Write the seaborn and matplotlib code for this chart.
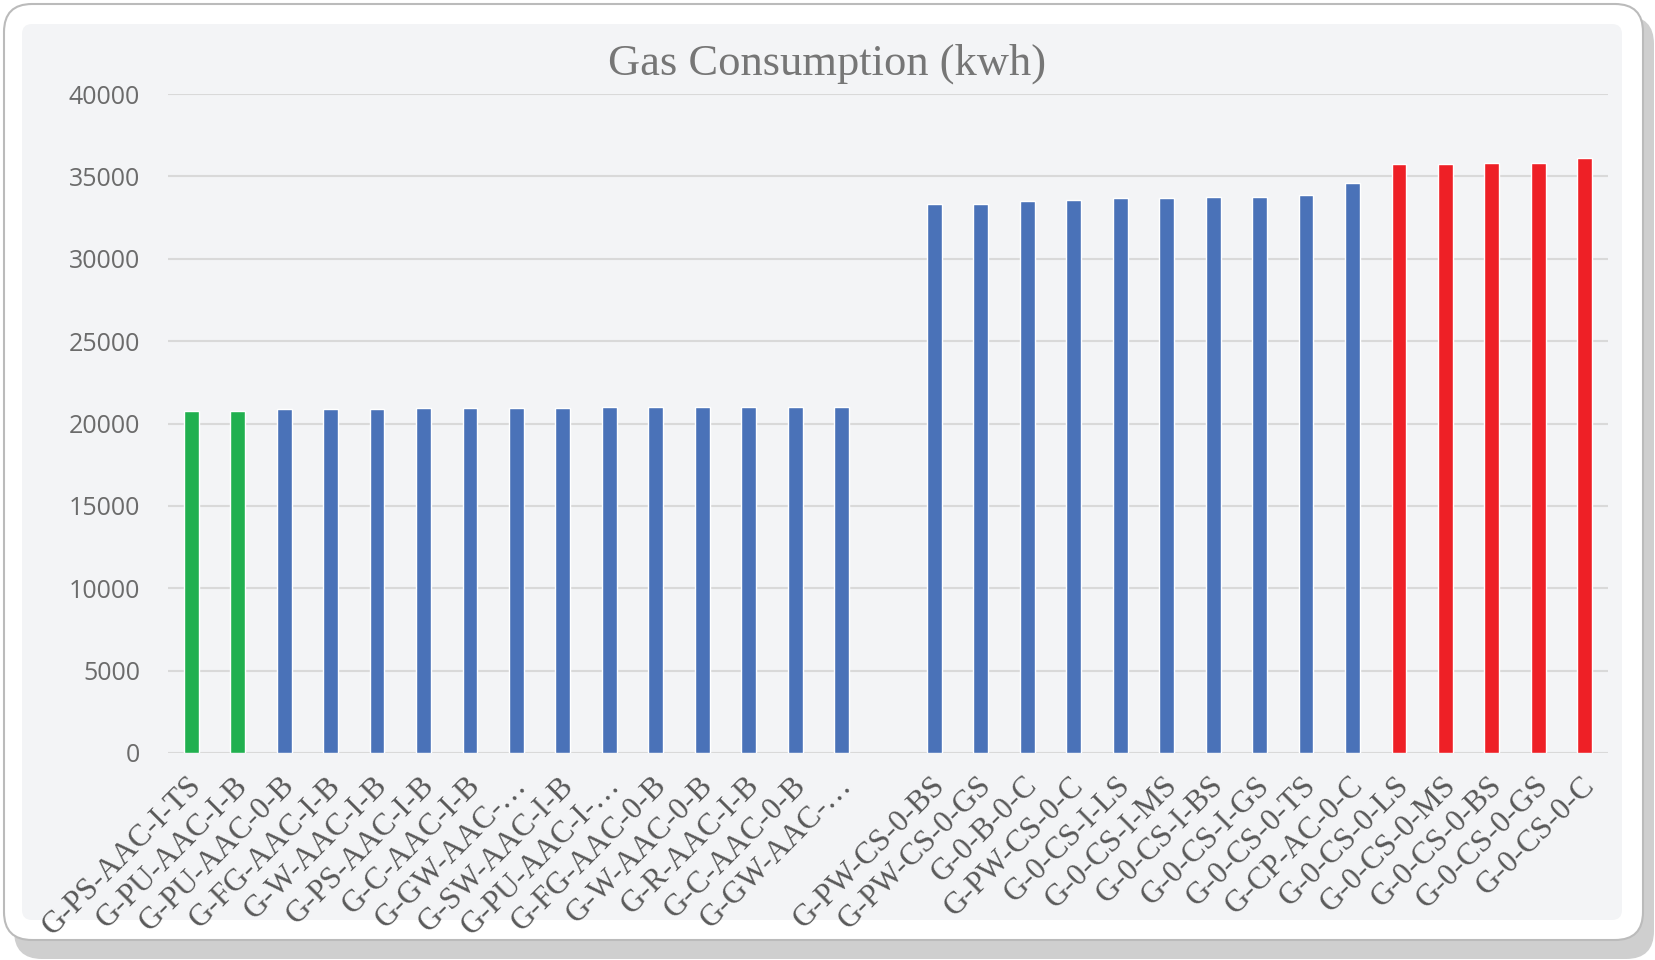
import numpy as np
import pandas as pd
import matplotlib
matplotlib.use("Agg")
import matplotlib.pyplot as plt
import matplotlib.transforms as mtrans
from matplotlib.patches import FancyBboxPatch
import seaborn as sns

# ---- data ----
labels = ["G-PS-AAC-I-TS", "G-PU-AAC-I-B", "G-PU-AAC-0-B", "G-FG-AAC-I-B", "G-W-AAC-I-B",
          "G-PS-AAC-I-B", "G-C-AAC-I-B", "G-GW-AAC-…", "G-SW-AAC-I-B", "G-PU-AAC-I-…",
          "G-FG-AAC-0-B", "G-W-AAC-0-B", "G-R-AAC-I-B", "G-C-AAC-0-B", "G-GW-AAC-…",
          "",
          "G-PW-CS-0-BS", "G-PW-CS-0-GS", "G-0-B-0-C", "G-PW-CS-0-C", "G-0-CS-I-LS",
          "G-0-CS-I-MS", "G-0-CS-I-BS", "G-0-CS-I-GS", "G-0-CS-0-TS", "G-CP-AC-0-C",
          "G-0-CS-0-LS", "G-0-CS-0-MS", "G-0-CS-0-BS", "G-0-CS-0-GS", "G-0-CS-0-C"]
values = [20750, 20750, 20860, 20860, 20870, 20920, 20920, 20920, 20920, 20975,
          20975, 21015, 21015, 21015, 21015,
          np.nan,
          33330, 33330, 33520, 33560, 33700, 33700, 33740, 33740, 33840, 34610,
          35770, 35770, 35810, 35810, 36140]
groups = ["best"] * 2 + ["mid"] * 13 + ["mid"] + ["mid"] * 10 + ["worst"] * 5
palette = {"best": "#21B04F", "mid": "#4A72B8", "worst": "#EE2026"}

keys = [f"c{i}" for i in range(len(labels))]
df = pd.DataFrame({"key": keys, "value": values, "group": groups})

W, H = 1655, 960
sns.set_style("white")
plt.rcParams["font.family"] = ["DejaVu Sans"]

fig = plt.figure(figsize=(W / 100, H / 100), dpi=100, facecolor="white")

# frame: shadow, outer rounded box, inner plot area
idt = mtrans.IdentityTransform()
shadow = FancyBboxPatch((14, 1), 1640, 943, boxstyle="round,pad=0,rounding_size=28",
                        transform=idt, facecolor="#CFCFCF", edgecolor="none", zorder=0)
outer = FancyBboxPatch((4, 20), 1639, 936, boxstyle="round,pad=0,rounding_size=28",
                       transform=idt, facecolor="white", edgecolor="#BBBBBB", lw=1.5, zorder=0.1)
inner = FancyBboxPatch((22, 40), 1600, 896, boxstyle="round,pad=0,rounding_size=10",
                       transform=idt, facecolor="#F3F4F6", edgecolor="none", zorder=0.2)
for p in (shadow, outer, inner):
    fig.add_artist(p)

ax = fig.add_axes([168 / W, 207 / H, 1440 / W, 659 / H])
ax.set_facecolor("none")
ax.set_zorder(1)

sns.barplot(data=df, x="key", y="value", hue="group", palette=palette, order=keys,
            width=0.32, dodge=False, legend=False, saturation=1, ax=ax)

ax.set_ylim(0, 40000)
ax.set_yticks(range(0, 40001, 5000))
ax.yaxis.grid(True, color="#D9D9D9", lw=1.5)
ax.xaxis.grid(False)
ax.set_axisbelow(True)
for s in ax.spines.values():
    s.set_visible(False)
ax.set_xlabel("")
ax.set_ylabel("")

ax.set_xticks(range(len(labels)))
ax.set_xticklabels(labels, rotation=45, ha="right", va="top", rotation_mode="anchor",
                   fontsize=22.5, family="Liberation Serif", color="#595959")
ax.tick_params(axis="x", length=0, pad=13)
off = mtrans.ScaledTranslation(-4 / 100, 0, fig.dpi_scale_trans)
for lab in ax.get_xticklabels():
    lab.set_transform(lab.get_transform() + off)

ax.tick_params(axis="y", length=0, pad=20, labelsize=18, labelcolor="#6B6B6B")
for lab in ax.get_yticklabels():
    lab.set_family("Open Sans")

fig.text(0.5, 1 - 64 / H, "Gas Consumption (kwh)", ha="center", va="center",
         fontsize=32, family="Liberation Serif", color="#767676")

fig.savefig("out.png", dpi=100)
